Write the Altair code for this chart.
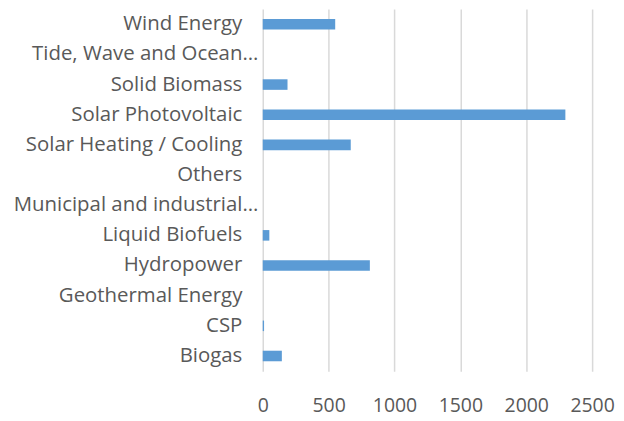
import altair as alt
import pandas as pd

categories = [
    "Wind Energy",
    "Tide, Wave and Ocean…",
    "Solid Biomass",
    "Solar Photovoltaic",
    "Solar Heating / Cooling",
    "Others",
    "Municipal and industrial…",
    "Liquid Biofuels",
    "Hydropower",
    "Geothermal Energy",
    "CSP",
    "Biogas",
]
values = [550, 0, 188, 2297, 668, 0, 0, 50, 813, 0, 10, 145]
x_ticks = [0, 500, 1000, 1500, 2000, 2500]

df = pd.DataFrame({"category": categories, "value": values})

font = "Open Sans"
chart = (
    alt.Chart(df)
    .mark_bar(color="#5B9BD5")
    .encode(
        y=alt.Y(
            "category:N",
            sort=categories,
            title=None,
            scale=alt.Scale(paddingInner=0.65, paddingOuter=0.33),
            axis=alt.Axis(
                labelFont=font,
                labelFontSize=20.5,
                labelColor="#595959",
                labelPadding={
                    "condition": {"test": "indexof(datum.value, '…') >= 0", "value": 5},
                    "value": 21,
                },
                ticks=False,
                domain=False,
                labelLimit=400,
            ),
        ),
        x=alt.X(
            "value:Q",
            title=None,
            scale=alt.Scale(domain=[0, 2500], nice=False),
            axis=alt.Axis(
                values=x_ticks,
                format="d",
                labelFont=font,
                labelFontSize=19.5,
                labelColor="#595959",
                labelPadding=25,
                labelFlush=False,
                labelOverlap=False,
                ticks=False,
                domain=False,
                grid=True,
                gridColor="#d9d9d9",
                gridWidth=1.5,
            ),
        ),
    )
    .properties(
        width=331,
        height=364,
        autosize=alt.AutoSizeParams(type="none"),
        padding={"left": 256, "top": 0, "right": 24, "bottom": 47},
    )
    .configure_view(stroke=None)
)

chart.save("out.html", embed_options={"renderer": "svg", "actions": False})
